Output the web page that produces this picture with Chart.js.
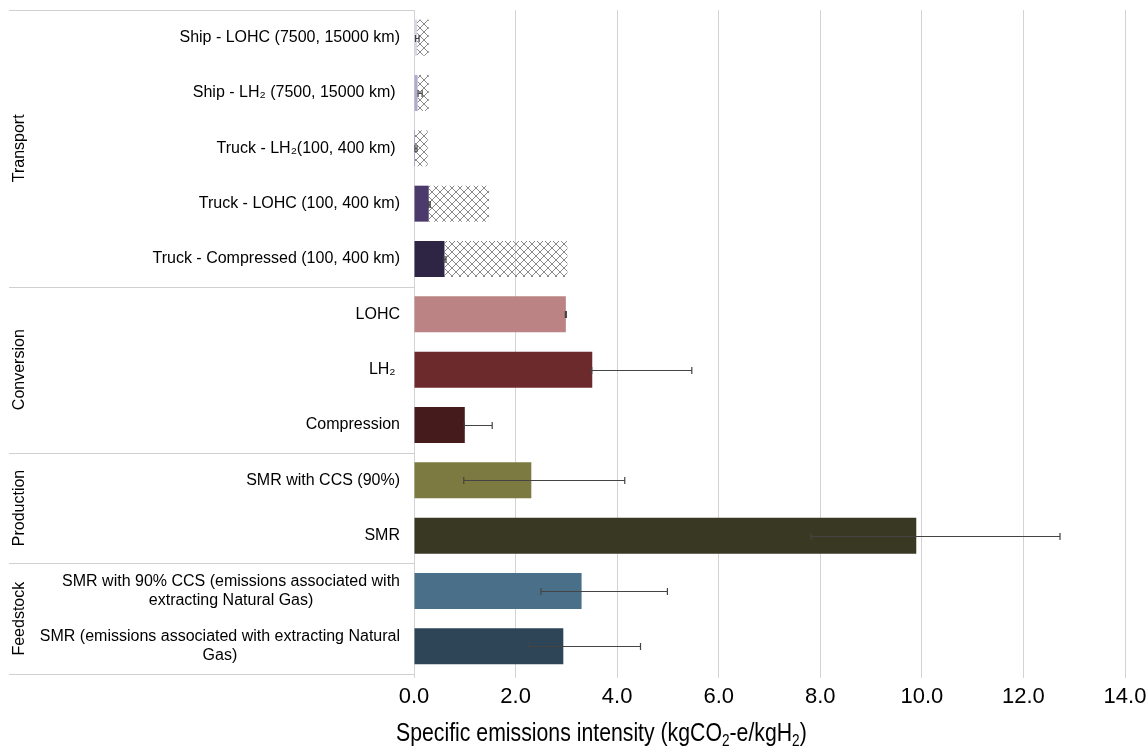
<!DOCTYPE html>
<html>
<head>
<meta charset="utf-8">
<script src="https://cdn.jsdelivr.net/npm/chart.js@4.4.1/dist/chart.umd.min.js"></script>
<style>
  html, body { margin: 0; padding: 0; background: #ffffff; }
  canvas { display: block; }
</style>
</head>
<body>
<canvas id="chart" width="1146" height="746"></canvas>
<script>
// Supply-chain steps (top to bottom); wrapped labels are given as line arrays
const categories = [
  ['Ship - LOHC (7500, 15000 km)'],
  ['Ship - LH\u2082 (7500, 15000 km) '],
  ['Truck - LH\u2082(100, 400 km) '],
  ['Truck - LOHC (100, 400 km)'],
  ['Truck - Compressed (100, 400 km)'],
  ['LOHC'],
  ['LH\u2082 '],
  ['Compression'],
  ['SMR with CCS (90%)'],
  ['SMR'],
  ['SMR with 90% CCS (emissions associated with', 'extracting Natural Gas)'],
  ['SMR (emissions associated with extracting Natural', 'Gas)']
];

// Stage groups and how many steps each one spans
const groupNames = ['Transport', 'Conversion', 'Production', 'Feedstock'];
const groupSizes = [5, 3, 2, 2];

// Emissions intensity (kgCO2-e/kgH2): shorter distance / central estimate
const baseValues = [0.06, 0.07, 0.02, 0.29, 0.60, 2.99, 3.51, 1.00, 2.31, 9.89, 3.30, 2.94];
// Additional emissions for the longer transport distance
const extraDistance = [0.23, 0.22, 0.25, 1.19, 2.42, 0, 0, 0, 0, 0, 0, 0];
// Range of literature values
const errLow  = [0.03, 0.08, 0.02, 0.29, 0.59, 2.98, 3.50, 0.99, 0.98, 7.82, 2.50, 2.25];
const errHigh = [0.10, 0.16, 0.06, 0.32, 0.63, 3.00, 5.47, 1.54, 4.15, 12.72, 4.99, 4.46];

// X axis ticks
const xTicks = [0, 2, 4, 6, 8, 10, 12, 14];

const barColors = ['#dcd5e8', '#b3a7d3', '#8c78b8', '#4c3a6c', '#2e2443',
                   '#bb8384', '#6d2a2d', '#461b1b', '#7d7a41', '#393823',
                   '#4a7089', '#2d4556'];

const FAMILY = "'Liberation Sans', Arial, sans-serif";
const LABEL_FONT = '16px ' + FAMILY;

const canvas = document.getElementById('chart');
const ctx = canvas.getContext('2d');

// Cross-hatch fill for the long-distance increment
function crossHatch() {
  const n = 8;
  const tile = document.createElement('canvas');
  tile.width = n; tile.height = n;
  const g = tile.getContext('2d');
  g.strokeStyle = '#8a8a8a';
  g.lineWidth = 1;
  g.beginPath();
  g.moveTo(0, 0); g.lineTo(n, n);
  g.moveTo(n, 0); g.lineTo(0, n);
  g.stroke();
  return ctx.createPattern(tile, 'repeat');
}

// Range whiskers for each step
const errorBars = {
  id: 'errorBars',
  afterDatasetsDraw(chart) {
    const x = chart.scales.x, y = chart.scales.y, c = chart.ctx;
    c.save();
    c.strokeStyle = '#444444';
    c.lineWidth = 1.2;
    categories.forEach((_, i) => {
      const py = Math.round(y.getPixelForValue(i)) + 0.5;
      const x1 = x.getPixelForValue(errLow[i]);
      const x2 = x.getPixelForValue(errHigh[i]);
      c.beginPath();
      c.moveTo(x1, py); c.lineTo(x2, py);
      c.moveTo(x1, py - 3.5); c.lineTo(x1, py + 3.5);
      c.moveTo(x2, py - 3.5); c.lineTo(x2, py + 3.5);
      c.stroke();
    });
    c.restore();
  }
};

// Step labels, stage labels and stage separators on the left
const sideLabels = {
  id: 'sideLabels',
  afterDraw(chart) {
    const y = chart.scales.y, area = chart.chartArea, c = chart.ctx;
    const step = y.getPixelForValue(1) - y.getPixelForValue(0);
    c.save();
    c.fillStyle = '#000000';
    c.font = LABEL_FONT;
    c.textBaseline = 'middle';
    c.textAlign = 'center';
    categories.forEach((lines, i) => {
      const cy = y.getPixelForValue(i);
      const w = Math.max(...lines.map(l => c.measureText(l).width));
      const cx = 400 - w / 2;
      const lh = 18.6;
      lines.forEach((l, k) => {
        c.fillText(l, cx, cy + (k - (lines.length - 1) / 2) * lh);
      });
    });

    // separators between stages
    c.strokeStyle = '#d0d0d0';
    c.lineWidth = 1;
    let start = 0;
    const bounds = [Math.round(area.top) + 0.5];
    groupNames.forEach((name, g) => {
      const end = start + groupSizes[g] - 1;
      const top = y.getPixelForValue(start) - step / 2;
      const bottom = y.getPixelForValue(end) + step / 2;
      bounds.push(Math.round(bottom) + 0.5);
      c.save();
      c.translate(20, (top + bottom) / 2);
      c.rotate(-Math.PI / 2);
      c.fillText(name, 0, 0);
      c.restore();
      start = end + 1;
    });
    c.beginPath();
    bounds.forEach(b => { c.moveTo(9, b); c.lineTo(area.left, b); });
    c.stroke();
    c.restore();
  }
};

// X axis title with subscripts, set in a condensed width
const axisTitle = {
  id: 'axisTitle',
  afterDraw(chart) {
    const c = chart.ctx;
    const parts = [['Specific emissions intensity (kgCO', false], ['2', true],
                   ['-e/kgH', false], ['2', true], [')', false]];
    c.save();
    c.fillStyle = '#000000';
    c.textBaseline = 'alphabetic';
    c.textAlign = 'left';
    c.translate(396, 741);
    c.scale(0.85, 1);
    let x = 0;
    parts.forEach(([t, sub]) => {
      c.font = (sub ? '16px ' : '25px ') + FAMILY;
      c.fillText(t, x, sub ? 5 : 0);
      x += c.measureText(t).width;
    });
    c.restore();
  }
};

new Chart(ctx, {
  type: 'bar',
  data: {
    labels: categories,
    datasets: [
      { data: baseValues, backgroundColor: barColors, borderWidth: 0 },
      { data: extraDistance, backgroundColor: crossHatch(), borderWidth: 0 }
    ]
  },
  options: {
    indexAxis: 'y',
    responsive: false,
    animation: false,
    devicePixelRatio: 1,
    barPercentage: 0.65,
    categoryPercentage: 1.0,
    layout: { padding: { left: 414, right: 21, top: 10, bottom: 0 } },
    plugins: { legend: { display: false }, tooltip: { enabled: false } },
    scales: {
      x: {
        stacked: true,
        min: 0,
        max: 14,
        afterBuildTicks(scale) { scale.ticks = xTicks.map(v => ({ value: v })); },
        afterFit(scale) {
          scale.height = 72;
          scale.paddingLeft = 0;
          scale.paddingRight = 0;
        },
        ticks: {
          callback: v => Number(v).toFixed(1),
          color: '#000000',
          font: { family: FAMILY, size: 22 },
          padding: 6,
          maxRotation: 0
        },
        grid: { color: '#d3d3d3', lineWidth: 1, tickLength: 4 },
        border: { display: false }
      },
      y: {
        stacked: true,
        display: false
      }
    }
  },
  plugins: [errorBars, sideLabels, axisTitle]
});
</script>
</body>
</html>
